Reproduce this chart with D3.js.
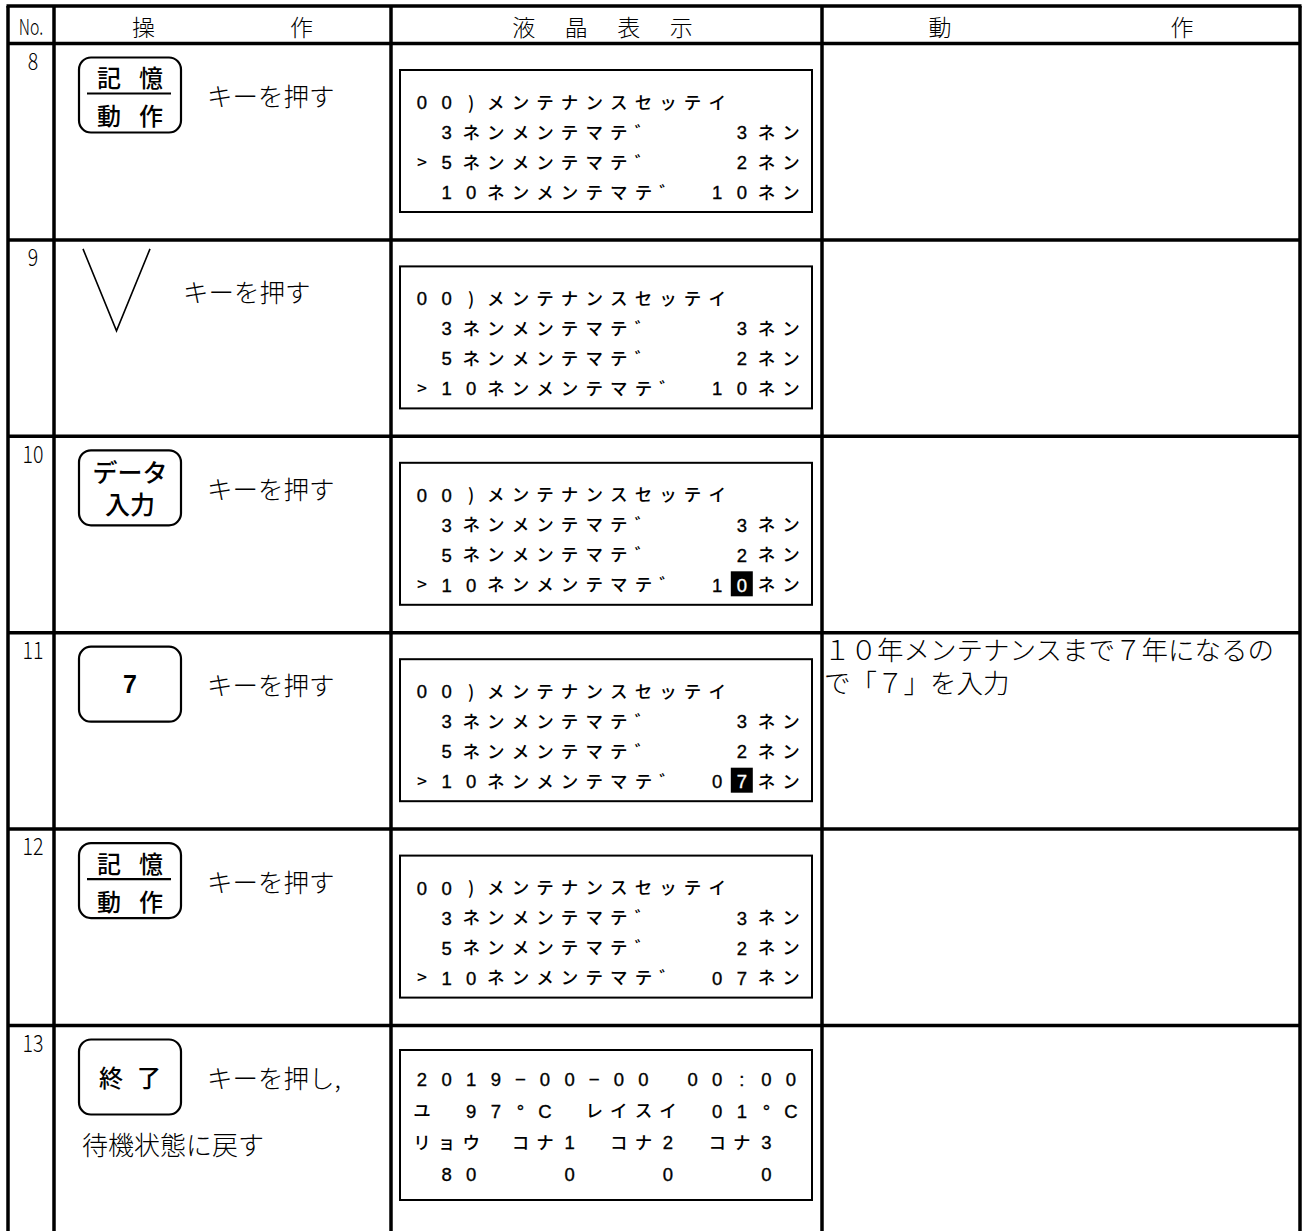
<!DOCTYPE html>
<html><head><meta charset="utf-8">
<script src="https://cdn.jsdelivr.net/npm/d3@7"></script>
<style>
html,body{margin:0;padding:0;background:#fff;}
svg{display:block;}
</style></head>
<body>
<script>
// ---------- data ----------
const headers = [["No."], ["操", "作"], ["液", "晶", "表", "示"], ["動", "作"]];
const stepNumbers = ["8", "9", "10", "11", "12", "13"];
const keyTypes = ["split", "triangle", "double", "single", "split", "single"];
const keyLabels = [
  [["記", "憶"], ["動", "作"]],
  [],
  [["データ"], ["入力"]],
  [["7"]],
  [["記", "憶"], ["動", "作"]],
  [["終", "了"]]
];
const operationTexts = ["キーを押す", "キーを押す", "キーを押す", "キーを押す", "キーを押す", "キーを押し,"];
const operationNotes = ["", "", "", "", "", "待機状態に戻す"];
const lcdScreens = [
  ["00)メンテナンスセッテイ", " 3ネンメンテマテ゛   3ネン", ">5ネンメンテマテ゛   2ネン", " 10ネンメンテマテ゛ 10ネン"],
  ["00)メンテナンスセッテイ", " 3ネンメンテマテ゛   3ネン", " 5ネンメンテマテ゛   2ネン", ">10ネンメンテマテ゛ 10ネン"],
  ["00)メンテナンスセッテイ", " 3ネンメンテマテ゛   3ネン", " 5ネンメンテマテ゛   2ネン", ">10ネンメンテマテ゛ 10ネン"],
  ["00)メンテナンスセッテイ", " 3ネンメンテマテ゛   3ネン", " 5ネンメンテマテ゛   2ネン", ">10ネンメンテマテ゛ 07ネン"],
  ["00)メンテナンスセッテイ", " 3ネンメンテマテ゛   3ネン", " 5ネンメンテマテ゛   2ネン", ">10ネンメンテマテ゛ 07ネン"],
  ["2019−00−00 00:00", "ユ 97°C レイスイ 01°C", "リョウ コナ1 コナ2 コナ3 ", " 80   0   0   0 "]
];
// highlighted cursor cells: [step index, line, column]
const cursorCells = [[2, 3, 13], [3, 3, 13]];
const actionTexts = [[], [], [], ["１０年メンテナンスまで７年になるの", "で「７」を入力"], [], []];

// ---------- layout ----------
const W = 1304, H = 1231;
const colEdges = [8, 54, 391, 822, 1300];
const headerTop = 6, firstRowTop = 43.5, rowH = 196.4;
const thin = "'Noto Sans CJK JP', sans-serif";

const svg = d3.select("body").append("svg").attr("width", W).attr("height", H);

const rowY = d3.scaleLinear().domain([0, stepNumbers.length]).range([firstRowTop, firstRowTop + rowH * stepNumbers.length]);
const lcdX = d3.scaleLinear().domain([0, 15]).range([422, 791]);

// ---------- grid ----------
const grid = svg.append("g").attr("stroke", "#000").attr("stroke-width", 3.5);
grid.append("line").attr("x1", colEdges[0] - 1.5).attr("x2", colEdges[4] + 1.5).attr("y1", headerTop).attr("y2", headerTop);
grid.selectAll("line.v").data(colEdges).join("line").attr("class", "v")
  .attr("x1", d => d).attr("x2", d => d).attr("y1", headerTop).attr("y2", H + 5);
grid.selectAll("line.h").data(d3.range(stepNumbers.length)).join("line").attr("class", "h")
  .attr("x1", colEdges[0]).attr("x2", colEdges[4]).attr("y1", d => rowY(d)).attr("y2", d => rowY(d));

// ---------- header ----------
const headerY = (headerTop + firstRowTop) / 2 + 1;
const headerSpread = [0, 79, 79, 121];
headers.forEach((chars, ci) => {
  const cx = (colEdges[ci] + colEdges[ci + 1]) / 2 + (ci === 2 ? -4 : 0);
  if (ci === 0) {
    svg.append("text").attr("transform", `translate(${cx},${headerY}) scale(0.72,1)`)
      .attr("text-anchor", "middle").attr("dominant-baseline", "central")
      .attr("font-family", thin).attr("font-weight", 300).attr("font-size", 22).text(chars[0]);
    return;
  }
  const n = chars.length;
  const step = n === 4 ? 52.5 : headerSpread[ci] * 2;
  chars.forEach((c, k) => {
    svg.append("text").attr("x", cx + (k - (n - 1) / 2) * step).attr("y", headerY)
      .attr("text-anchor", "middle").attr("dominant-baseline", "central")
      .attr("font-family", thin).attr("font-weight", 300).attr("font-size", 23).text(c);
  });
});

// ---------- rows ----------
stepNumbers.forEach((num, i) => {
  const top = rowY(i);
  const g = svg.append("g");
  // step number
  g.append("text").attr("transform", `translate(33,${top + 16}) scale(0.85,1)`).attr("text-anchor", "middle")
    .attr("dominant-baseline", "central").attr("font-family", thin).attr("font-weight", 300)
    .attr("font-size", 23).text(num);

  // key
  const kx0 = 79, kx1 = 181, kcx = (kx0 + kx1) / 2;
  const type = keyTypes[i];
  if (type === "triangle") {
    g.append("path").attr("d", d3.line()([[83, top + 9], [116.5, top + 91], [150, top + 9]]))
      .attr("fill", "none").attr("stroke", "#000").attr("stroke-width", 1.6);
  } else {
    g.append("rect").attr("x", kx0).attr("y", top + 14).attr("width", kx1 - kx0).attr("height", 75)
      .attr("rx", 12).attr("fill", "none").attr("stroke", "#000").attr("stroke-width", 2.2);
    const lab = keyLabels[i];
    const addPair = (pair, y, spread, size) => {
      if (pair.length === 1) {
        const digit = /^[0-9]$/.test(pair[0]);
        g.append("text").attr("x", kcx).attr("y", y).attr("text-anchor", "middle").attr("dominant-baseline", "central")
          .attr("font-family", digit ? "'Liberation Sans', Arial, sans-serif" : thin)
          .attr("font-weight", digit ? 700 : 500).attr("font-size", size).text(pair[0]);
      } else {
        pair.forEach((c, k) => {
          g.append("text").attr("x", kcx + (k === 0 ? -spread : spread)).attr("y", y)
            .attr("text-anchor", "middle").attr("dominant-baseline", "central")
            .attr("font-family", thin).attr("font-weight", 500).attr("font-size", size).text(c);
        });
      }
    };
    if (type === "split") {
      addPair(lab[0], top + 33, 21, 24);
      g.append("line").attr("x1", 87).attr("x2", 171).attr("y1", top + 50).attr("y2", top + 50)
        .attr("stroke", "#000").attr("stroke-width", 2.2);
      addPair(lab[1], top + 71, 21, 24);
    } else if (type === "double") {
      addPair(lab[0], top + 35, 0, 25);
      addPair(lab[1], top + 67, 0, 25);
    } else {
      addPair(lab[0], top + 51, 19, lab[0].length === 1 ? 25 : 24);
    }
  }
  // operation text
  g.append("text").attr("x", type === "triangle" ? 183 : 207).attr("y", top + 51)
    .attr("dominant-baseline", "central").attr("font-family", thin).attr("font-weight", 300)
    .attr("font-size", 25.5).text(operationTexts[i]);
  if (operationNotes[i]) {
    g.append("text").attr("x", 82).attr("y", top + 118).attr("dominant-baseline", "central")
      .attr("font-family", thin).attr("font-weight", 300).attr("font-size", 26).text(operationNotes[i]);
  }

  // LCD
  const last = i === stepNumbers.length - 1;
  const boxTop = top + (last ? 24.5 : 26.5), boxH = last ? 150 : 142;
  const lineY0 = last ? boxTop + 28 : boxTop + 31, lineStep = last ? 31.7 : 30;
  g.append("rect").attr("x", 400).attr("y", boxTop).attr("width", 412).attr("height", boxH)
    .attr("fill", "none").attr("stroke", "#000").attr("stroke-width", 2);
  cursorCells.filter(c => c[0] === i).forEach(c => {
    g.append("rect").attr("x", lcdX(c[2]) - 11).attr("y", lineY0 + c[1] * lineStep - 12.5)
      .attr("width", 22).attr("height", 25).attr("fill", "#000");
  });
  lcdScreens[i].forEach((line, li) => {
    Array.from(line).forEach((ch, ci) => {
      if (ch === " ") return;
      const hl = cursorCells.some(c => c[0] === i && c[1] === li && c[2] === ci);
      const isDigit = /[0-9C:−°]/.test(ch);
      g.append("text").attr("x", lcdX(ci)).attr("y", lineY0 + li * lineStep + (isDigit ? 1.5 : 0))
        .attr("text-anchor", "middle").attr("dominant-baseline", "central")
        .attr("font-family", isDigit ? "'Liberation Sans', Arial, sans-serif" : thin)
        .attr("font-weight", isDigit ? 400 : 500).attr("font-size", isDigit ? 18.5 : 17.5)
        .attr("stroke", hl ? "#fff" : "#000").attr("stroke-width", isDigit ? 0.35 : 0)
        .attr("fill", hl ? "#fff" : "#000").text(ch);
    });
  });

  // action
  actionTexts[i].forEach((t, ti) => {
    g.append("text").attr("x", 824).attr("y", top + 16 + ti * 33).attr("dominant-baseline", "central")
      .attr("font-family", thin).attr("font-weight", 300).attr("font-size", 26.5).text(t);
  });
});
</script>
</body></html>
